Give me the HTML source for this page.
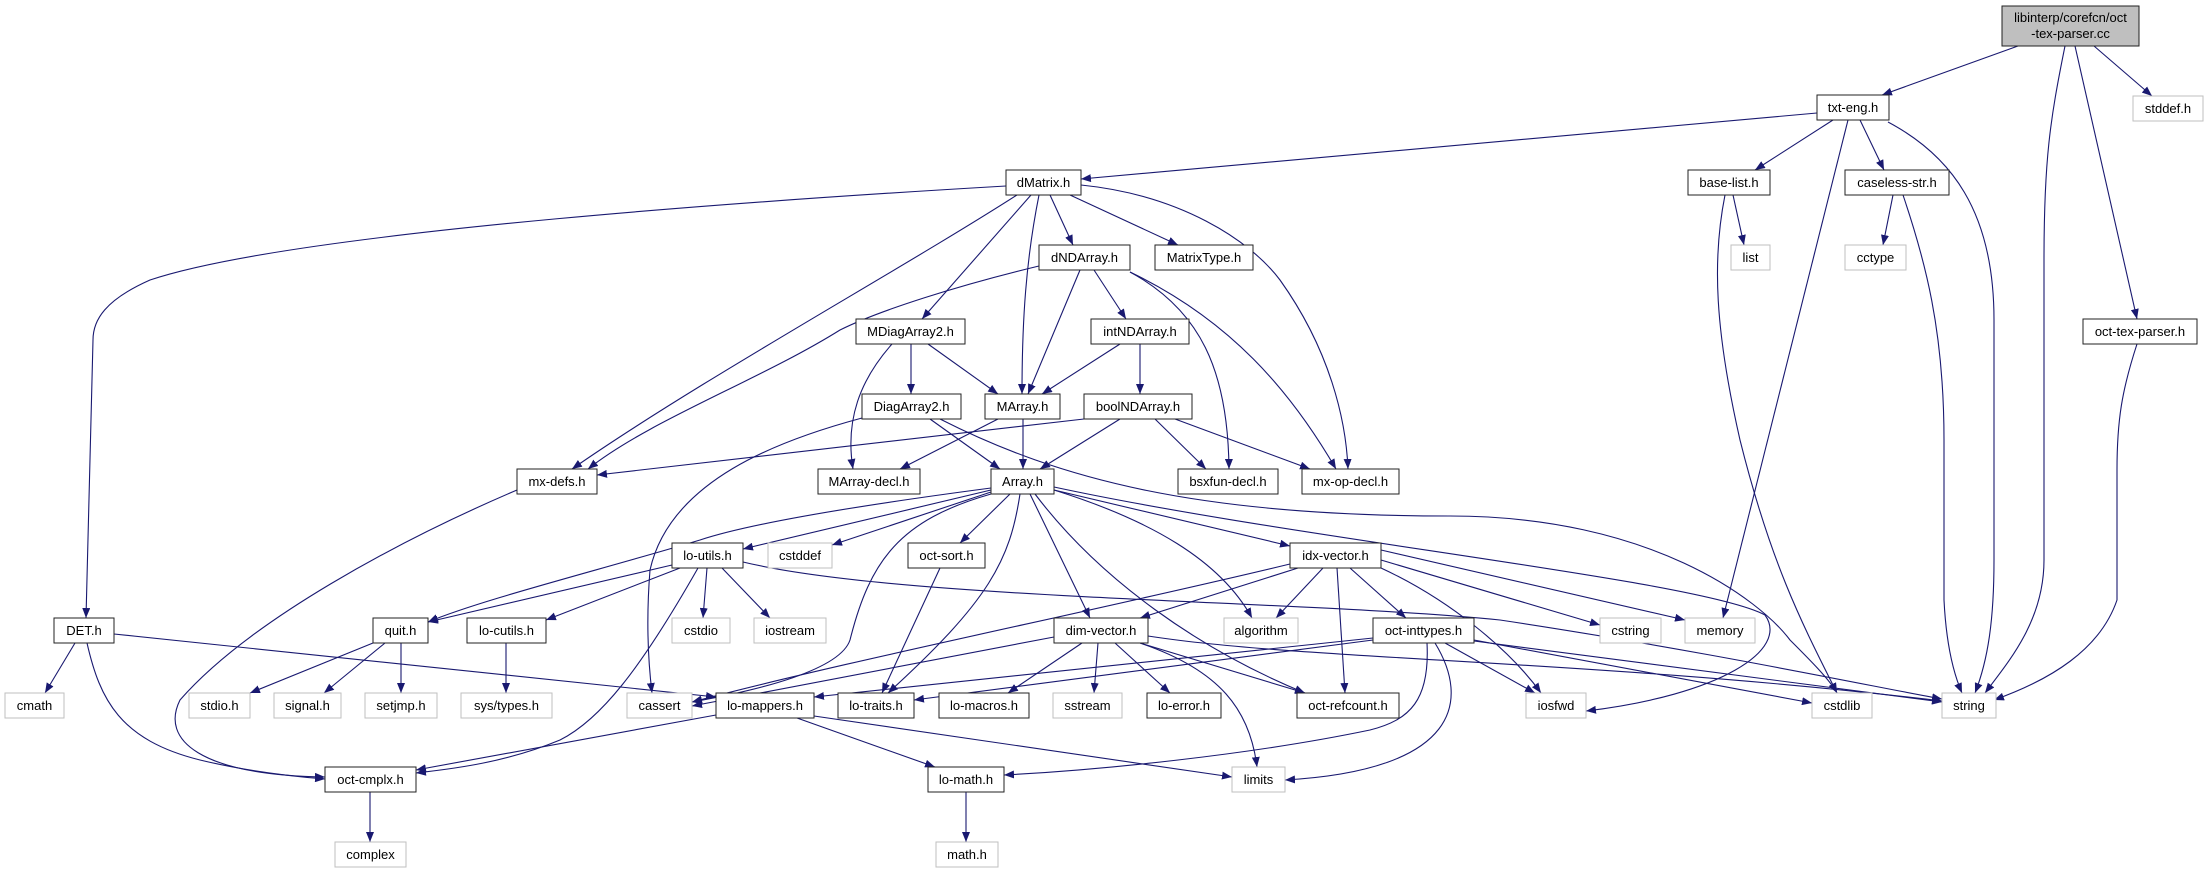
<!DOCTYPE html>
<html><head><meta charset="utf-8"><style>
html,body{margin:0;padding:0;background:#fff;}
svg{display:block;}
text{font-family:"Liberation Sans",sans-serif;font-size:13px;fill:#000;}
.e{fill:none;stroke:#191970;stroke-width:1.1;marker-end:url(#a);}
.n{fill:#fff;stroke:#222;stroke-width:1;}
.g{fill:#fff;stroke:#bfbfbf;stroke-width:1;}
</style></head><body>
<svg width="2208" height="873" viewBox="0 0 2208 873" xmlns="http://www.w3.org/2000/svg">
<defs><marker id="a" markerUnits="userSpaceOnUse" markerWidth="11" markerHeight="8" refX="10" refY="4" orient="auto"><path d="M0,0 L10,4 L0,8 z" fill="#191970"/></marker></defs>
<g>
<path class="e" d="M2018,46 L1882,95"/>
<path class="e" d="M2094,46 L2152,96"/>
<path class="e" d="M2065,46 C2050,120 2044,160 2044,260 L2044,560 C2044,620 2010,660 1985,693"/>
<path class="e" d="M2075,46 L2137,319"/>
<path class="e" d="M1817,113 L1081,179"/>
<path class="e" d="M1833,120 L1755,170"/>
<path class="e" d="M1860,120 L1884,170"/>
<path class="e" d="M1848,120 L1723,618"/>
<path class="e" d="M1888,122 C1950,155 1994,210 1994,320 L1994,560 C1994,620 1988,660 1975,693"/>
<path class="e" d="M1733,195 L1744,245"/>
<path class="e" d="M1725,195 C1712,260 1715,330 1740,440 C1770,560 1800,620 1837,693"/>
<path class="e" d="M1893,195 L1883,245"/>
<path class="e" d="M1903,195 C1925,260 1944,330 1944,440 L1944,600 C1946,640 1952,670 1962,693"/>
<path class="e" d="M2137,344 C2122,390 2117,420 2117,470 L2117,600 C2100,650 2050,680 1994,700"/>
<path class="e" d="M1006,186 C800,198 300,230 150,280 C105,300 93,320 93,340 L86,618"/>
<path class="e" d="M1017,195 C900,270 700,380 572,469"/>
<path class="e" d="M1031,195 L922,319"/>
<path class="e" d="M1039,195 C1026,260 1022,320 1022,394"/>
<path class="e" d="M1050,195 L1073,245"/>
<path class="e" d="M1070,195 L1178,245"/>
<path class="e" d="M1081,185 C1180,195 1250,240 1280,280 C1330,350 1346,420 1348,469"/>
<path class="e" d="M1039,266 C960,285 880,310 840,330 C760,380 650,420 588,469"/>
<path class="e" d="M1080,270 L1028,394"/>
<path class="e" d="M1094,270 L1126,319"/>
<path class="e" d="M1130,272 C1200,310 1228,370 1229,469"/>
<path class="e" d="M1130,272 C1230,320 1290,390 1336,469"/>
<path class="e" d="M911,344 L911,394"/>
<path class="e" d="M928,344 L998,394"/>
<path class="e" d="M892,344 C860,380 845,420 853,469"/>
<path class="e" d="M1120,344 L1042,394"/>
<path class="e" d="M1140,344 L1140,394"/>
<path class="e" d="M930,419 L1000,469"/>
<path class="e" d="M862,418 C780,440 670,480 650,570 C646,620 648,660 652,693"/>
<path class="e" d="M940,419 C1060,480 1200,516 1450,516 C1650,516 1760,600 1790,640 C1810,660 1830,680 1837,693"/>
<path class="e" d="M998,419 L900,469"/>
<path class="e" d="M1023,419 L1023,469"/>
<path class="e" d="M1084,419 L597,475"/>
<path class="e" d="M1120,419 L1040,469"/>
<path class="e" d="M1155,419 L1206,469"/>
<path class="e" d="M1175,419 L1310,469"/>
<path class="e" d="M517,490 C400,540 250,620 180,700 C160,740 200,775 325,777"/>
<path class="e" d="M991,488 C900,500 760,520 700,540 C600,570 480,600 428,622"/>
<path class="e" d="M991,490 L743,549"/>
<path class="e" d="M991,492 L832,545"/>
<path class="e" d="M1010,494 L960,543"/>
<path class="e" d="M991,494 C900,520 870,560 850,640 C840,670 760,690 692,702"/>
<path class="e" d="M1020,494 C1010,560 990,600 888,693"/>
<path class="e" d="M1030,494 L1090,618"/>
<path class="e" d="M1035,494 C1100,580 1200,650 1305,693"/>
<path class="e" d="M1054,490 C1150,520 1220,560 1252,618"/>
<path class="e" d="M1054,490 L1290,546"/>
<path class="e" d="M1054,487 C1300,540 1700,580 1765,615 C1790,650 1720,695 1586,711"/>
<path class="e" d="M672,565 L428,622"/>
<path class="e" d="M680,568 L546,620"/>
<path class="e" d="M707,568 L703,618"/>
<path class="e" d="M722,568 L770,618"/>
<path class="e" d="M698,568 C640,670 600,720 560,740 C500,765 440,770 416,773"/>
<path class="e" d="M743,562 C900,600 1300,600 1500,620 C1700,650 1880,688 1942,699"/>
<path class="e" d="M373,643 L250,693"/>
<path class="e" d="M385,643 L324,693"/>
<path class="e" d="M401,643 L401,693"/>
<path class="e" d="M506,643 L506,693"/>
<path class="e" d="M75,643 L45,693"/>
<path class="e" d="M87,643 C100,700 120,740 200,760 C250,772 300,777 325,779"/>
<path class="e" d="M114,634 L716,697"/>
<path class="e" d="M716,715 L416,770"/>
<path class="e" d="M797,718 L935,767"/>
<path class="e" d="M814,716 L1232,777"/>
<path class="e" d="M370,792 L370,842"/>
<path class="e" d="M966,792 L966,842"/>
<path class="e" d="M940,568 L882,693"/>
<path class="e" d="M1290,564 C1100,610 850,660 692,702"/>
<path class="e" d="M1298,568 L1140,618"/>
<path class="e" d="M1323,568 L1276,618"/>
<path class="e" d="M1337,568 L1345,693"/>
<path class="e" d="M1350,568 L1406,618"/>
<path class="e" d="M1381,560 L1600,625"/>
<path class="e" d="M1381,550 L1685,620"/>
<path class="e" d="M1381,568 C1450,600 1510,650 1541,693"/>
<path class="e" d="M1054,637 L692,706"/>
<path class="e" d="M1082,643 L1008,693"/>
<path class="e" d="M1098,643 L1094,693"/>
<path class="e" d="M1115,643 L1170,693"/>
<path class="e" d="M1140,643 L1305,693"/>
<path class="e" d="M1140,643 C1220,670 1250,710 1257,767"/>
<path class="e" d="M1148,636 C1300,660 1600,660 1942,701"/>
<path class="e" d="M1373,638 L814,697"/>
<path class="e" d="M1373,640 L914,700"/>
<path class="e" d="M1427,643 C1430,700 1410,720 1370,730 C1250,755 1100,770 1004,775"/>
<path class="e" d="M1435,643 C1470,700 1460,770 1285,780"/>
<path class="e" d="M1445,643 L1535,693"/>
<path class="e" d="M1474,641 L1942,702"/>
<path class="e" d="M1474,640 L1812,703"/>
</g>
<g>
<rect x="2002" y="6" width="137" height="40" fill="#bfbfbf" stroke="#222"/>
<text x="2070.5" y="22" text-anchor="middle">libinterp/corefcn/oct</text>
<text x="2070.5" y="38" text-anchor="middle">-tex-parser.cc</text>
</g>
<g text-anchor="middle">
<rect class="n" x="1817" y="95" width="72" height="25"/><text x="1853" y="112">txt-eng.h</text>
<rect class="g" x="2133" y="96" width="70" height="25"/><text x="2168" y="113">stddef.h</text>
<rect class="n" x="1006" y="170" width="75" height="25"/><text x="1043.5" y="187">dMatrix.h</text>
<rect class="n" x="1688" y="170" width="82" height="25"/><text x="1729" y="187">base-list.h</text>
<rect class="n" x="1845" y="170" width="104" height="25"/><text x="1897" y="187">caseless-str.h</text>
<rect class="n" x="1039" y="245" width="91" height="25"/><text x="1084.5" y="262">dNDArray.h</text>
<rect class="n" x="1155" y="245" width="98" height="25"/><text x="1204" y="262">MatrixType.h</text>
<rect class="g" x="1731" y="245" width="39" height="25"/><text x="1750.5" y="262">list</text>
<rect class="g" x="1845" y="245" width="61" height="25"/><text x="1875.5" y="262">cctype</text>
<rect class="n" x="856" y="319" width="109" height="25"/><text x="910.5" y="336">MDiagArray2.h</text>
<rect class="n" x="1091" y="319" width="98" height="25"/><text x="1140" y="336">intNDArray.h</text>
<rect class="n" x="2083" y="319" width="114" height="25"/><text x="2140" y="336">oct-tex-parser.h</text>
<rect class="n" x="862" y="394" width="99" height="25"/><text x="911.5" y="411">DiagArray2.h</text>
<rect class="n" x="985" y="394" width="75" height="25"/><text x="1022.5" y="411">MArray.h</text>
<rect class="n" x="1084" y="394" width="108" height="25"/><text x="1138" y="411">boolNDArray.h</text>
<rect class="n" x="517" y="469" width="80" height="25"/><text x="557" y="486">mx-defs.h</text>
<rect class="n" x="818" y="469" width="102" height="25"/><text x="869" y="486">MArray-decl.h</text>
<rect class="n" x="991" y="469" width="63" height="25"/><text x="1022.5" y="486">Array.h</text>
<rect class="n" x="1178" y="469" width="100" height="25"/><text x="1228" y="486">bsxfun-decl.h</text>
<rect class="n" x="1302" y="469" width="97" height="25"/><text x="1350.5" y="486">mx-op-decl.h</text>
<rect class="n" x="672" y="543" width="71" height="25"/><text x="707.5" y="560">lo-utils.h</text>
<rect class="g" x="768" y="543" width="64" height="25"/><text x="800" y="560">cstddef</text>
<rect class="n" x="908" y="543" width="77" height="25"/><text x="946.5" y="560">oct-sort.h</text>
<rect class="n" x="1290" y="543" width="91" height="25"/><text x="1335.5" y="560">idx-vector.h</text>
<rect class="n" x="54" y="618" width="60" height="25"/><text x="84" y="635">DET.h</text>
<rect class="n" x="373" y="618" width="55" height="25"/><text x="400.5" y="635">quit.h</text>
<rect class="n" x="467" y="618" width="79" height="25"/><text x="506.5" y="635">lo-cutils.h</text>
<rect class="g" x="672" y="618" width="58" height="25"/><text x="701" y="635">cstdio</text>
<rect class="g" x="754" y="618" width="72" height="25"/><text x="790" y="635">iostream</text>
<rect class="n" x="1054" y="618" width="94" height="25"/><text x="1101" y="635">dim-vector.h</text>
<rect class="g" x="1224" y="618" width="74" height="25"/><text x="1261" y="635">algorithm</text>
<rect class="n" x="1373" y="618" width="101" height="25"/><text x="1423.5" y="635">oct-inttypes.h</text>
<rect class="g" x="1600" y="618" width="61" height="25"/><text x="1630.5" y="635">cstring</text>
<rect class="g" x="1685" y="618" width="70" height="25"/><text x="1720" y="635">memory</text>
<rect class="g" x="5" y="693" width="59" height="25"/><text x="34.5" y="710">cmath</text>
<rect class="g" x="189" y="693" width="61" height="25"/><text x="219.5" y="710">stdio.h</text>
<rect class="g" x="274" y="693" width="67" height="25"/><text x="307.5" y="710">signal.h</text>
<rect class="g" x="365" y="693" width="72" height="25"/><text x="401" y="710">setjmp.h</text>
<rect class="g" x="461" y="693" width="91" height="25"/><text x="506.5" y="710">sys/types.h</text>
<rect class="g" x="627" y="693" width="65" height="25"/><text x="659.5" y="710">cassert</text>
<rect class="n" x="716" y="693" width="98" height="25"/><text x="765" y="710">lo-mappers.h</text>
<rect class="n" x="838" y="693" width="76" height="25"/><text x="876" y="710">lo-traits.h</text>
<rect class="n" x="939" y="693" width="90" height="25"/><text x="984" y="710">lo-macros.h</text>
<rect class="g" x="1053" y="693" width="69" height="25"/><text x="1087.5" y="710">sstream</text>
<rect class="n" x="1147" y="693" width="74" height="25"/><text x="1184" y="710">lo-error.h</text>
<rect class="n" x="1297" y="693" width="102" height="25"/><text x="1348" y="710">oct-refcount.h</text>
<rect class="g" x="1526" y="693" width="60" height="25"/><text x="1556" y="710">iosfwd</text>
<rect class="g" x="1812" y="693" width="60" height="25"/><text x="1842" y="710">cstdlib</text>
<rect class="g" x="1942" y="693" width="54" height="25"/><text x="1969" y="710">string</text>
<rect class="n" x="325" y="767" width="91" height="25"/><text x="370.5" y="784">oct-cmplx.h</text>
<rect class="n" x="928" y="767" width="76" height="25"/><text x="966" y="784">lo-math.h</text>
<rect class="g" x="1232" y="767" width="53" height="25"/><text x="1258.5" y="784">limits</text>
<rect class="g" x="335" y="842" width="71" height="25"/><text x="370.5" y="859">complex</text>
<rect class="g" x="936" y="842" width="62" height="25"/><text x="967" y="859">math.h</text>
</g>
</svg>
</body></html>
